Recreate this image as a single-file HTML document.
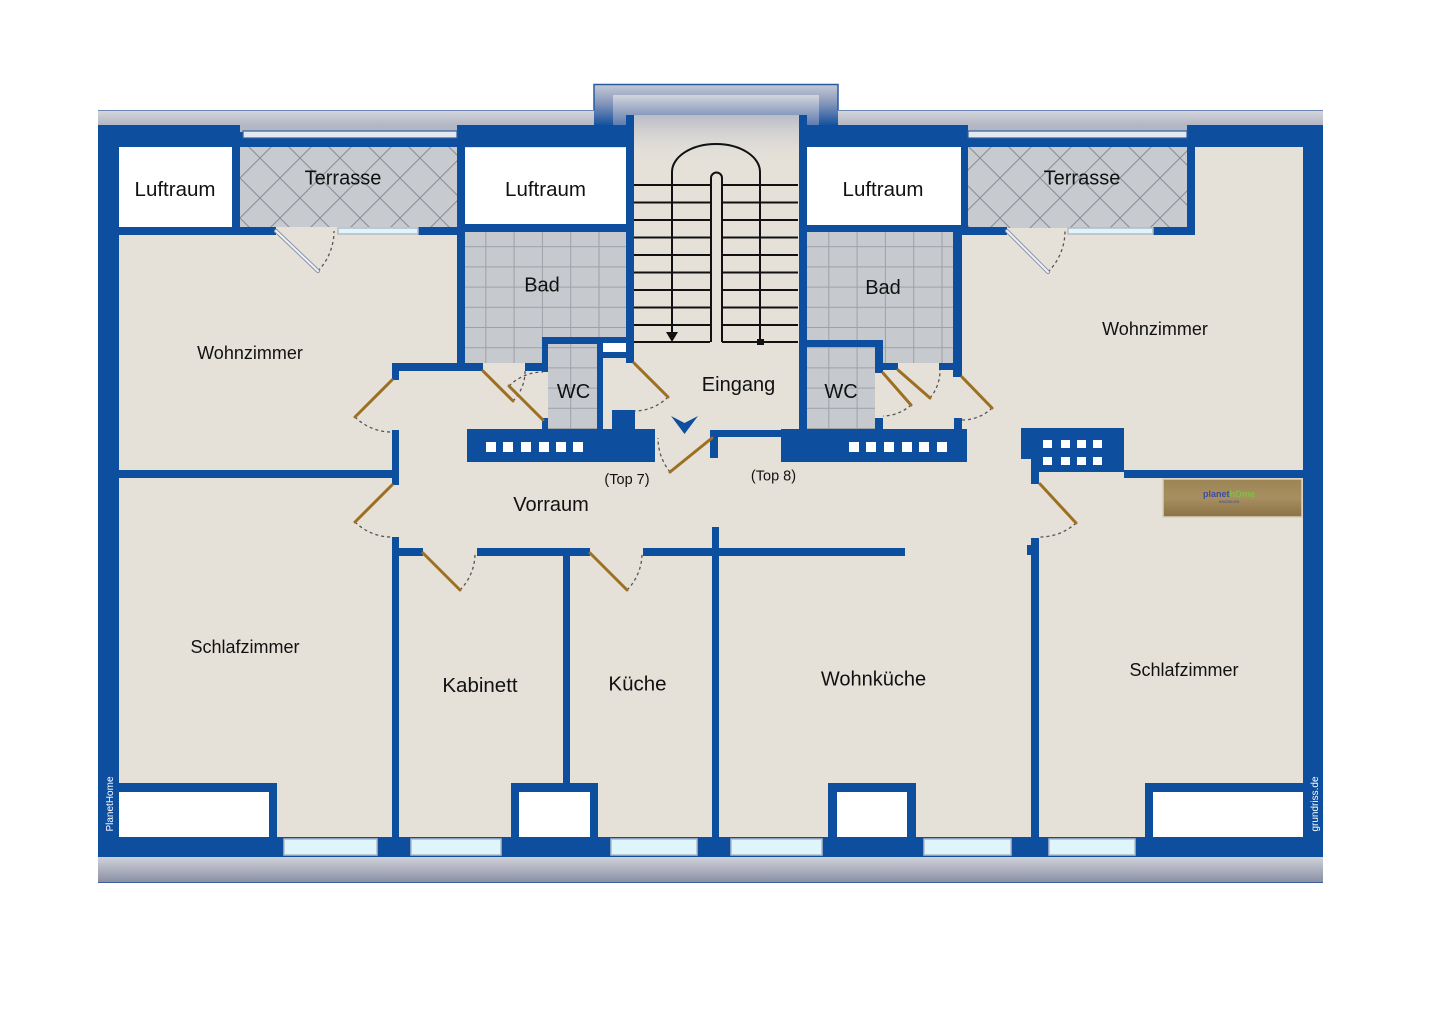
<!DOCTYPE html>
<html><head><meta charset="utf-8"><style>html,body{margin:0;padding:0;background:#fff}svg{display:block}</style></head>
<body>
<svg width="1440" height="1018" viewBox="0 0 1440 1018" xmlns="http://www.w3.org/2000/svg" font-family="'Liberation Sans', Arial, sans-serif">
<defs>
<linearGradient id="roof" x1="0" y1="0" x2="0" y2="1"><stop offset="0" stop-color="#d6d8de"/><stop offset="1" stop-color="#aeb2c0"/></linearGradient>
<linearGradient id="bump" x1="0" y1="0" x2="0" y2="1"><stop offset="0" stop-color="#c8cbd5"/><stop offset="0.45" stop-color="#8797bb"/><stop offset="1" stop-color="#124f9e"/></linearGradient>
<linearGradient id="bumpin" x1="0" y1="0" x2="0" y2="1"><stop offset="0" stop-color="#d3d5dc"/><stop offset="1" stop-color="#5f7bb0"/></linearGradient>
<linearGradient id="bottom" x1="0" y1="0" x2="0" y2="1"><stop offset="0" stop-color="#d0d2d9"/><stop offset="1" stop-color="#878ca2"/></linearGradient>
<linearGradient id="stairtop" x1="0" y1="0" x2="0" y2="1"><stop offset="0" stop-color="#b9bcc7"/><stop offset="1" stop-color="#e5e1d9" stop-opacity="0"/></linearGradient>
<linearGradient id="sign" x1="0" y1="0" x2="0" y2="1"><stop offset="0" stop-color="#9c8455"/><stop offset="0.5" stop-color="#a88f60"/><stop offset="1" stop-color="#8a7245"/></linearGradient>
<pattern id="terr" width="40" height="40" patternUnits="userSpaceOnUse" x="240" y="138">
<rect width="40" height="40" fill="#c7cacf"/>
<path d="M0 0 L40 40 M40 0 L0 40" stroke="#898c92" stroke-width="1"/>
</pattern>
<pattern id="tile" width="28.3" height="20.2" patternUnits="userSpaceOnUse" x="457" y="226">
<rect width="28.3" height="20.2" fill="#c6c9ce"/>
<path d="M0 0.5 H28.3 M0.5 0 V20.2" stroke="#9ea1a7" stroke-width="1"/>
</pattern>
<pattern id="tile2" width="28.3" height="20.2" patternUnits="userSpaceOnUse" x="800" y="226">
<rect width="28.3" height="20.2" fill="#c6c9ce"/>
<path d="M0 0.5 H28.3 M0.5 0 V20.2" stroke="#9ea1a7" stroke-width="1"/>
</pattern>
</defs>

<rect width="1440" height="1018" fill="#fff"/>

<!-- roof strips -->
<rect x="98" y="110" width="1225" height="17" fill="url(#roof)"/>
<line x1="98" y1="110.5" x2="1323" y2="110.5" stroke="#6f86b4" stroke-width="1"/>
<rect x="594" y="84" width="244" height="42" fill="url(#bump)"/>
<rect x="613" y="95" width="206" height="30" fill="url(#bumpin)"/>
<path d="M594 110 V84.5 H838 V110" fill="none" stroke="#2a5aa0" stroke-width="1.5"/>
<rect x="98" y="857" width="1225" height="26" fill="url(#bottom)"/>
<line x1="98" y1="882.5" x2="1323" y2="882.5" stroke="#3e5f9a" stroke-width="1"/>

<!-- floor base -->
<rect x="119" y="145" width="1184" height="692" fill="#e5e1d9"/>

<!-- white luftraum -->
<rect x="119" y="147" width="113" height="80" fill="#fff"/>
<rect x="465" y="148" width="161" height="76" fill="#fff"/>
<rect x="807" y="147" width="154" height="78" fill="#fff"/>

<!-- terrasses -->
<rect x="240" y="138" width="217" height="89" fill="url(#terr)"/>
<rect x="968" y="138" width="219" height="90" fill="url(#terr)"/>

<!-- bad tiles -->
<rect x="465" y="232" width="161" height="131" fill="url(#tile)"/>
<rect x="548" y="344" width="49" height="86" fill="url(#tile)"/>
<rect x="603" y="358" width="23" height="72" fill="#e5e1d9"/>
<rect x="807" y="232" width="146" height="131" fill="url(#tile2)"/>
<rect x="807" y="347" width="68" height="83" fill="url(#tile2)"/>

<!-- walls -->
<g fill="#0d4e9f">
<rect x="98" y="125" width="536" height="22"/>
<rect x="799" y="125" width="524" height="22"/>
<rect x="98" y="125" width="21" height="732"/>
<rect x="1303" y="125" width="20" height="732"/>
<rect x="98" y="837" width="1225" height="20"/>

<rect x="232" y="147" width="8" height="88"/>
<rect x="119" y="227" width="157" height="8"/>
<rect x="418" y="227" width="45" height="8"/>
<rect x="457" y="125" width="8" height="246"/>
<rect x="457" y="224" width="177" height="8"/>
<rect x="626" y="115" width="8" height="248"/>
<rect x="542" y="337" width="92" height="7"/>
<rect x="542" y="337" width="6" height="35"/>
<rect x="525" y="363" width="23" height="8"/>
<rect x="542" y="418" width="6" height="12"/>
<rect x="597" y="337" width="6" height="93"/>
<rect x="597" y="352" width="29" height="6"/>
<rect x="392" y="363" width="91" height="8"/>
<rect x="392" y="363" width="7" height="17"/>
<rect x="392" y="430" width="7" height="55"/>
<rect x="119" y="470" width="280" height="8"/>
<rect x="392" y="537" width="7" height="300"/>
<rect x="467" y="429" width="188" height="33"/>
<rect x="612" y="410" width="23" height="20"/>
<rect x="710" y="430" width="71" height="7"/>
<rect x="710" y="430" width="8" height="28"/>
<rect x="781" y="429" width="186" height="33"/>
<rect x="799" y="115" width="8" height="315"/>
<rect x="799" y="225" width="169" height="7"/>
<rect x="961" y="125" width="7" height="110"/>
<rect x="953" y="225" width="9" height="152"/>
<rect x="799" y="340" width="84" height="7"/>
<rect x="875" y="340" width="8" height="33"/>
<rect x="875" y="418" width="8" height="12"/>
<rect x="883" y="363" width="15" height="7"/>
<rect x="939" y="363" width="23" height="7"/>
<rect x="954" y="418" width="8" height="12"/>
<rect x="961" y="227" width="46" height="8"/>
<rect x="1153" y="227" width="42" height="8"/>
<rect x="1187" y="125" width="8" height="110"/>
<rect x="1021" y="428" width="103" height="31"/>
<rect x="1031" y="428" width="93" height="44"/>
<rect x="1031" y="470" width="8" height="14"/>
<rect x="1124" y="470" width="179" height="8"/>
<rect x="1031" y="538" width="8" height="300"/>
<rect x="1027" y="545" width="5" height="10"/>
<rect x="392" y="548" width="31" height="8"/>
<rect x="477" y="548" width="113" height="8"/>
<rect x="643" y="548" width="262" height="8"/>
<rect x="563" y="548" width="7" height="235"/>
<rect x="712" y="527" width="7" height="310"/>
<rect x="119" y="783" width="158" height="54"/>
<rect x="511" y="783" width="87" height="54"/>
<rect x="828" y="783" width="88" height="54"/>
<rect x="1145" y="783" width="158" height="54"/>
</g>

<!-- stair shaft (drawn over walls) -->
<rect x="634" y="115" width="165" height="227" fill="#e5e1d9"/>
<rect x="634" y="115" width="165" height="50" fill="url(#stairtop)"/>

<!-- closet whites -->
<g fill="#fff">
<rect x="119" y="792" width="150" height="45"/>
<rect x="519" y="792" width="71" height="45"/>
<rect x="837" y="792" width="70" height="45"/>
<rect x="1153" y="792" width="150" height="45"/>
<rect x="603" y="343" width="23" height="9"/>
</g>

<!-- white squares on bars -->
<g fill="#fff">
<rect x="486" y="442" width="10" height="10"/><rect x="503" y="442" width="10" height="10"/><rect x="521" y="442" width="10" height="10"/><rect x="539" y="442" width="10" height="10"/><rect x="556" y="442" width="10" height="10"/><rect x="573" y="442" width="10" height="10"/>
<rect x="849" y="442" width="10" height="10"/><rect x="866" y="442" width="10" height="10"/><rect x="884" y="442" width="10" height="10"/><rect x="902" y="442" width="10" height="10"/><rect x="919" y="442" width="10" height="10"/><rect x="937" y="442" width="10" height="10"/>
<rect x="1043" y="440" width="9" height="8"/><rect x="1061" y="440" width="9" height="8"/><rect x="1077" y="440" width="9" height="8"/><rect x="1093" y="440" width="9" height="8"/>
<rect x="1043" y="457" width="9" height="8"/><rect x="1061" y="457" width="9" height="8"/><rect x="1077" y="457" width="9" height="8"/><rect x="1093" y="457" width="9" height="8"/>
</g>

<!-- terrasse railings -->
<rect x="240" y="125" width="217" height="7" fill="#b3b7c3"/>
<rect x="243" y="131" width="214" height="7" fill="#e3e9f0" stroke="#2f5f9f" stroke-width="1.2"/>
<rect x="968" y="125" width="219" height="7" fill="#b3b7c3"/>
<rect x="968" y="131" width="219" height="7" fill="#e3e9f0" stroke="#2f5f9f" stroke-width="1.2"/>

<!-- windows -->
<g fill="#def6fb" stroke="#b5bac3" stroke-width="1.5">
<rect x="338" y="228" width="80" height="6"/>
<rect x="1068" y="228" width="85" height="6"/>
<rect x="284" y="839" width="93" height="16"/>
<rect x="411" y="839" width="90" height="16"/>
<rect x="611" y="839" width="86" height="16"/>
<rect x="731" y="839" width="91" height="16"/>
<rect x="924" y="839" width="87" height="16"/>
<rect x="1049" y="839" width="86" height="16"/>
</g>

<!-- stairs -->
<g stroke="#111" stroke-width="2" fill="none">
<path d="M634 185 H710 M634 202.5 H710 M634 220 H710 M634 237.5 H710 M634 255 H710 M634 272.5 H710 M634 290 H710 M634 307.5 H710 M634 325 H710 M634 342 H710"/>
<path d="M722 185 H798 M722 202.5 H798 M722 220 H798 M722 237.5 H798 M722 255 H798 M722 272.5 H798 M722 290 H798 M722 307.5 H798 M722 325 H798 M722 342 H798"/>
<path d="M711 342 V178 A5.5 5.5 0 0 1 722 178 V342" fill="#e5e1d9"/>
<path d="M672 334 V172 A44 28 0 0 1 760 172 V340"/>
</g>
<path d="M666 332 L678 332 L672 342 Z" fill="#111"/>
<rect x="757" y="339" width="7" height="6" fill="#111"/>

<!-- entrance chevron -->
<path d="M671 416 L684.5 434 L698 416 L684.5 423 Z" fill="#0d4e9f"/>

<!-- doors: arcs -->
<g fill="none" stroke="#555" stroke-width="1.3" stroke-dasharray="3 3">
<path d="M355 417 A52 52 0 0 0 392 432"/>
<path d="M355 522 A52 52 0 0 0 392 537"/>
<path d="M513 401 A42 42 0 0 0 525 371"/>
<path d="M509 386 A48 48 0 0 1 543 372"/>
<path d="M668 397 A48 48 0 0 1 634 411"/>
<path d="M670 472 A54 54 0 0 1 658 438"/>
<path d="M911 405 A42.5 42.5 0 0 1 883 416"/>
<path d="M930 398 A42.5 42.5 0 0 0 940 370"/>
<path d="M992 408 A43 43 0 0 1 962 420"/>
<path d="M1076 523 A53 53 0 0 1 1040 537"/>
<path d="M460 590 A52 52 0 0 0 475 553"/>
<path d="M627 590 A52 52 0 0 0 642 553"/>
<path d="M318 271 A58 58 0 0 0 334 231"/>
<path d="M1048 272 A58 58 0 0 0 1065 231"/>
</g>

<!-- door leaves -->
<g stroke="#9c6f22" stroke-width="3" stroke-linecap="round">
<line x1="392" y1="380" x2="355" y2="417"/>
<line x1="392" y1="485" x2="355" y2="522"/>
<line x1="483" y1="371" x2="513" y2="401"/>
<line x1="543" y1="420" x2="509" y2="386"/>
<line x1="634" y1="363" x2="668" y2="397"/>
<line x1="712" y1="438" x2="670" y2="472"/>
<line x1="883" y1="373" x2="911" y2="405"/>
<line x1="898" y1="370" x2="930" y2="398"/>
<line x1="962" y1="377" x2="992" y2="408"/>
<line x1="1040" y1="484" x2="1076" y2="523"/>
<line x1="423" y1="553" x2="460" y2="590"/>
<line x1="590" y1="553" x2="627" y2="590"/>
</g>
<g stroke="#8a93a6" stroke-width="4" stroke-linecap="round">
<line x1="276" y1="231" x2="318" y2="271"/>
<line x1="1007" y1="231" x2="1048" y2="272"/>
</g>
<g stroke="#eef3f8" stroke-width="2" stroke-linecap="round">
<line x1="276" y1="231" x2="318" y2="271"/>
<line x1="1007" y1="231" x2="1048" y2="272"/>
</g>

<!-- sign -->
<rect x="1163" y="479" width="139" height="38" fill="url(#sign)" stroke="#d9d0ba" stroke-width="1.5"/>
<text x="1229" y="497" text-anchor="middle" font-size="9" font-weight="bold"><tspan fill="#3c4da3">planet</tspan><tspan fill="#7cc242">hOme</tspan></text>
<text x="1229" y="503" text-anchor="middle" font-size="3.5" fill="#3c4da3">IMMOBILIEN</text>

<!-- labels -->
<g fill="#111" text-anchor="middle">
<text x="175" y="196" font-size="20.5">Luftraum</text>
<text x="343" y="184.5" font-size="20">Terrasse</text>
<text x="545.5" y="196" font-size="20.5">Luftraum</text>
<text x="883" y="196" font-size="20.5">Luftraum</text>
<text x="1082" y="184.5" font-size="20">Terrasse</text>
<text x="542" y="291.5" font-size="20">Bad</text>
<text x="883" y="294" font-size="20">Bad</text>
<text x="250" y="359" font-size="18">Wohnzimmer</text>
<text x="1155" y="335" font-size="18">Wohnzimmer</text>
<text x="573.5" y="398" font-size="20">WC</text>
<text x="841" y="398" font-size="20">WC</text>
<text x="738.5" y="391" font-size="20">Eingang</text>
<text x="627" y="484" font-size="14.5">(Top 7)</text>
<text x="773.5" y="480.5" font-size="14.5">(Top 8)</text>
<text x="551" y="511" font-size="20">Vorraum</text>
<text x="245" y="653" font-size="18">Schlafzimmer</text>
<text x="480" y="692" font-size="20.5">Kabinett</text>
<text x="637.5" y="690.5" font-size="20.5">Küche</text>
<text x="873.5" y="685.5" font-size="20">Wohnküche</text>
<text x="1184" y="676" font-size="18">Schlafzimmer</text>
</g>

<text transform="translate(113,804) rotate(-90)" text-anchor="middle" font-size="10" fill="#fff">PlanetHome</text>
<text transform="translate(1318,804) rotate(-90)" text-anchor="middle" font-size="10" fill="#fff">grundriss.de</text>
</svg>
</body></html>
